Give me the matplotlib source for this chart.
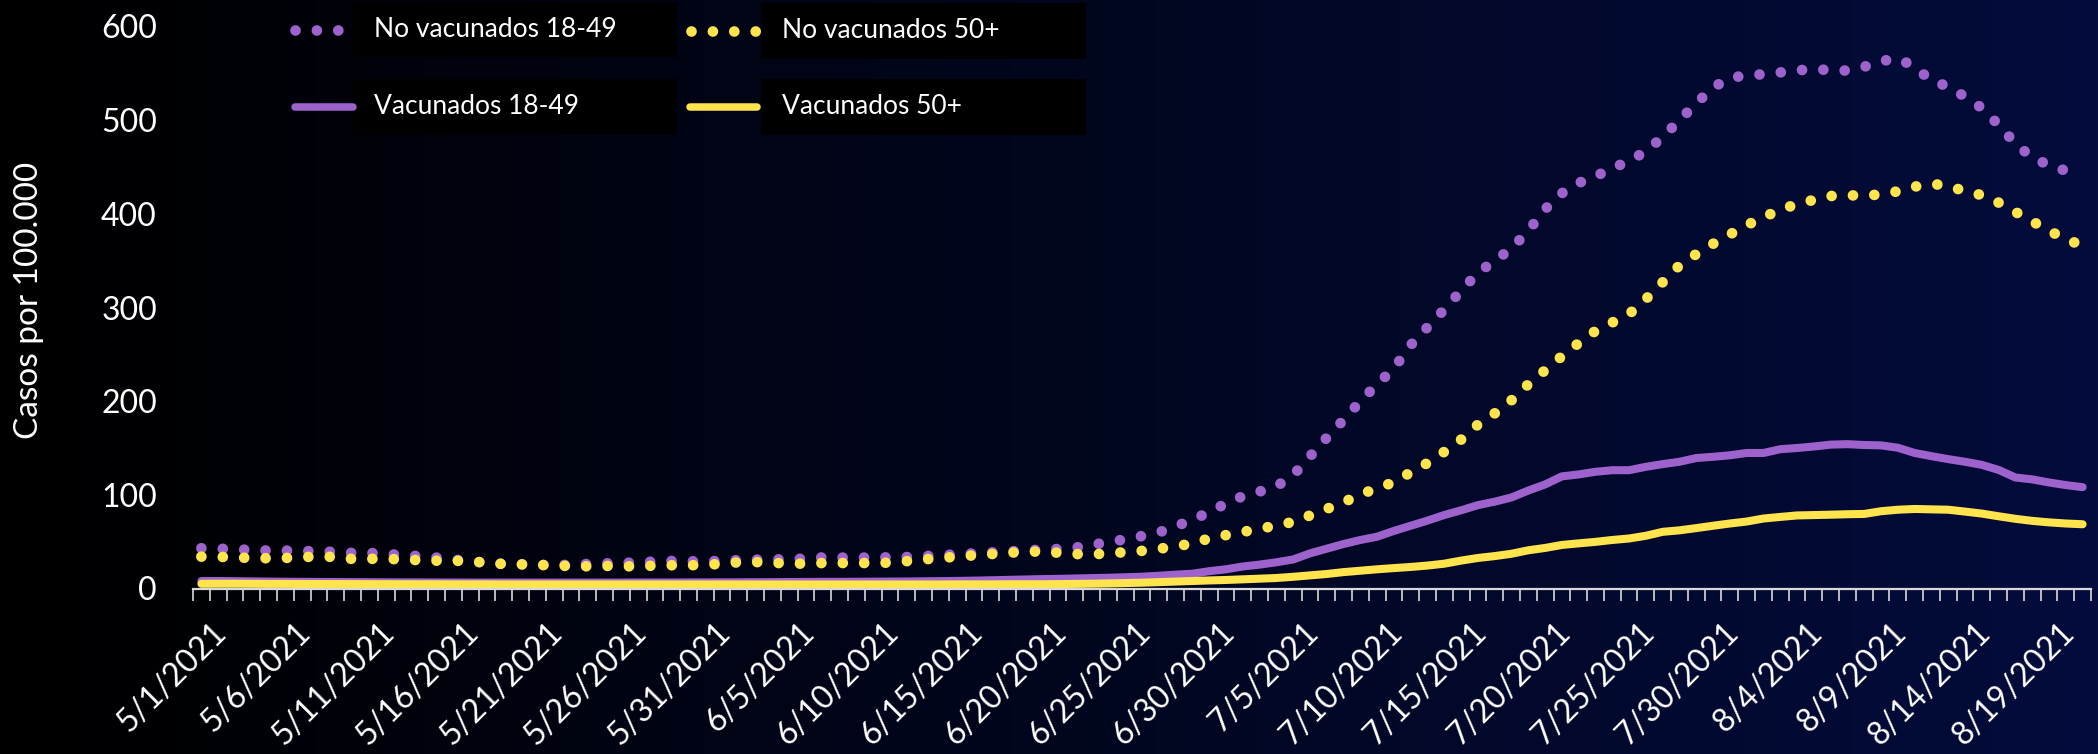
import matplotlib
matplotlib.use("Agg")
import matplotlib.pyplot as plt
import matplotlib.transforms as mtransforms
from matplotlib.lines import Line2D
from matplotlib.patches import Rectangle
import numpy as np
import pandas as pd

plt.rcParams["font.family"] = ["Lato", "DejaVu Sans"]

# daily series, 5/1/2021 .. 8/21/2021 (cases per 100,000)
dates = pd.date_range("2021-05-01", "2021-08-21", freq="D")
labels = [f"{d.month}/{d.day}/{d.year}" for d in dates]

no_vac_18_49 = [
    43, 42.5, 42, 41, 40.5, 40.5, 40, 39.8, 39, 38,
    38, 37, 35.5, 34.5, 33, 31, 29, 27.5, 26.3, 25.8,
    25.2, 24.9, 25.3, 26.2, 26.8, 27.3, 28, 28.8, 29.4, 29.1,
    29, 29.5, 30.3, 30.8, 31, 31.3, 32, 33.2, 33, 33,
    33, 33.3, 33.6, 34.5, 35.5, 36.5, 37.5, 38.5, 39.5, 40.5,
    41.5, 42.2, 43.5, 46.5, 49.5, 52.5, 56, 60, 66, 74,
    81, 91, 98.5, 103.5, 109, 121, 141, 161, 180, 200,
    218, 235, 260, 279, 298, 318, 337, 350, 363, 382,
    405, 422, 433, 440, 449, 456, 467, 482, 500, 518,
    535, 545, 548, 549, 551, 553, 555, 553, 553, 557,
    563, 566, 557, 542, 536, 525, 513, 495, 475, 460,
    452, 446, 441,
]
no_vac_50 = [
    34, 33.8, 33.2, 32.5, 32.3, 32.6, 33.3, 34.5, 33.5, 31.5,
    31.7, 31.6, 31, 30.2, 29.7, 29.7, 29, 27.5, 26.1, 25.8,
    25.3, 24.6, 23.9, 23.7, 24.2, 23.6, 23.8, 24.4, 24.8, 24.8,
    25.1, 26.5, 28, 28.2, 27.5, 26.6, 26.5, 27.2, 27.2, 27.2,
    27.2, 27.6, 29.2, 31, 32.5, 34, 35.4, 36.7, 38, 39.2,
    39.5, 38.2, 36.8, 36.4, 37.5, 38.8, 40.2, 42.3, 45.2, 47.8,
    53.5, 57, 60.5, 63.5, 67.5, 71, 78, 85, 92, 100.5,
    107, 113.5, 124, 134, 146, 159, 175, 187, 201, 218,
    233, 248, 262, 275, 284, 293, 309, 327, 345, 357,
    368, 378, 388, 396, 405, 410, 415, 419, 420, 419,
    421, 424, 429, 432, 430, 424, 420, 412, 402, 392,
    382, 373, 366,
]
vac_18_49 = [
    8, 8, 7.8, 7.6, 7.4, 7.2, 7.1, 7, 6.9, 6.8,
    6.7, 6.6, 6.5, 6.5, 6.4, 6.4, 6.3, 6.3, 6.3, 6.3,
    6.3, 6.3, 6.3, 6.3, 6.3, 6.3, 6.4, 6.4, 6.4, 6.5,
    6.5, 6.6, 6.6, 6.7, 6.8, 6.9, 7, 7.1, 7.1, 7.2,
    7.3, 7.4, 7.5, 7.7, 7.9, 8.1, 8.4, 8.8, 9.2, 9.6,
    10, 10.3, 10.7, 11.1, 11.5, 12, 12.6, 13.6, 14.8, 15.8,
    18.5, 20.5, 23.5, 25.5, 28, 31, 37.5, 42.5, 47.5, 51.8,
    55.3, 61.5, 67, 72.5, 78.5, 83.5, 89, 92.7, 97.2, 104.6,
    111.1, 119.7, 121.8, 124.6, 126.3, 126.3, 129.9, 132.8, 135.3, 139.3,
    140.6, 142.2, 144.7, 144.7, 148.7, 150, 151.6, 153.6, 154.1, 153.2,
    152.8, 150.3, 144.7, 141.3, 138.1, 135.3, 132, 126.6, 118.5, 116.5,
    113.2, 110.4, 108.2,
]
vac_50 = [
    5, 5.1, 5.1, 5, 4.9, 4.9, 4.8, 4.8, 4.7, 4.7,
    4.6, 4.6, 4.5, 4.5, 4.5, 4.4, 4.4, 4.4, 4.3, 4.3,
    4.3, 4.3, 4.3, 4.3, 4.3, 4.3, 4.3, 4.3, 4.3, 4.3,
    4.3, 4.3, 4.3, 4.3, 4.3, 4.3, 4.3, 4.3, 4.3, 4.3,
    4.3, 4.3, 4.3, 4.3, 4.3, 4.4, 4.4, 4.4, 4.5, 4.5,
    4.5, 4.7, 4.9, 5.1, 5.4, 5.8, 6.2, 6.8, 7.4, 8,
    8.6, 9.1, 9.8, 10.5, 11.2, 12.5, 14, 15.5, 17.5, 19,
    20.5, 21.8, 23, 24.5, 26.5, 29.8, 32.6, 34.6, 37.1, 40.8,
    43.3, 46.5, 48.2, 49.8, 51.8, 53.4, 56.3, 60.5, 62.1, 64.5,
    67, 69.4, 71.5, 74.7, 76.4, 78, 78.4, 78.8, 79.3, 79.6,
    82.5, 84.1, 84.9, 84.5, 84.1, 82.1, 80, 77.1, 74.4, 72.2,
    70.6, 69.4, 68.6,
]

series_names = ["No vacunados 18-49", "No vacunados 50+", "Vacunados 18-49", "Vacunados 50+"]
PURPLE = "#9e62cc"
YELLOW = "#ffe44d"
W, H = 2098, 754


def fx(px):
    return px / W


def fy(py):
    return 1 - py / H


fig = plt.figure(figsize=(W / 100, H / 100), dpi=100)

# background gradient, black on the left to navy on the right
bg = fig.add_axes([0, 0, 1, 1], zorder=-10)
grad = np.linspace(0, 1, 512)
rgb = np.zeros((1, 512, 3))
rgb[0, :, 0] = grad * 3 / 255
rgb[0, :, 1] = grad * 12 / 255
rgb[0, :, 2] = grad * 60 / 255
bg.imshow(rgb, aspect="auto", extent=[0, 1, 0, 1])
bg.axis("off")

ax = fig.add_axes([fx(193), fy(588.5), fx(2091) - fx(193), fy(26.5) - fy(588.5)])
ax.patch.set_alpha(0)

x = np.arange(len(dates))
DOT_LW = 7.7
DOTS = (0, (0.001, 2.0))
ax.plot(x, no_vac_18_49, color=PURPLE, lw=DOT_LW, linestyle=DOTS, dash_capstyle="round")
ax.plot(x, no_vac_50, color=YELLOW, lw=DOT_LW, linestyle=DOTS, dash_capstyle="round")
ax.plot(x, vac_18_49, color=PURPLE, lw=5.8, solid_capstyle="round", solid_joinstyle="round")
ax.plot(x, vac_50, color=YELLOW, lw=5.8, solid_capstyle="round", solid_joinstyle="round")

ax.set_xlim(-0.5, len(dates) - 0.5)
ax.set_ylim(0, 600)
ax.set_yticks(range(0, 601, 100))
ax.tick_params(axis="y", length=0, pad=26, labelsize=23, labelcolor="white")

for s in ["top", "right", "left"]:
    ax.spines[s].set_visible(False)
ax.spines["bottom"].set_color("#d9d9d9")
ax.spines["bottom"].set_linewidth(1.6)

# one tick between each pair of days, a date label every fifth day
ax.set_xticks([])
ax.set_xticks(np.arange(-0.5, len(dates), 1.0), minor=True)
ax.tick_params(axis="x", which="minor", length=8.6, width=1.2, color="#d9d9d9", direction="out")
lab_trans = ax.get_xaxis_transform() + mtransforms.ScaledTranslation(
    10 / 100, -29 / 100, fig.dpi_scale_trans)
for i in x[::5]:
    ax.text(i, 0, labels[i], transform=lab_trans, rotation=45, rotation_mode="anchor",
            ha="right", va="top", fontsize=23, color="white", clip_on=False)

fig.text(fx(29), fy(300), "Casos por 100.000", rotation=90, ha="center", va="center",
         fontsize=24, color="white")

# legend drawn by hand: black text boxes with samples to their left
legend_items = [
    (series_names[0], PURPLE, "dot", (295, 340), 353, 677, (2, 57), 374),
    (series_names[1], YELLOW, "dot", (691, 756), 761, 1086, (3, 59), 782),
    (series_names[2], PURPLE, "solid", (295, 353), 353, 677, (79, 135), 374),
    (series_names[3], YELLOW, "solid", (690, 757), 761, 1086, (79, 135), 782),
]
for name, col, kind, (x0, x1), bx0, bx1, (by0, by1), tx in legend_items:
    yc = (by0 + by1) / 2
    if kind == "dot":
        ln = Line2D([fx(x0), fx(x1)], [fy(yc), fy(yc)], transform=fig.transFigure,
                    color=col, lw=DOT_LW, linestyle=DOTS, dash_capstyle="round")
    else:
        ln = Line2D([fx(x0), fx(x1)], [fy(yc), fy(yc)], transform=fig.transFigure,
                    color=col, lw=5.4, solid_capstyle="round")
    fig.add_artist(ln)
    fig.add_artist(Rectangle((fx(bx0), fy(by1)), fx(bx1) - fx(bx0), fy(by0) - fy(by1),
                             transform=fig.transFigure, facecolor="black", edgecolor="none"))
    fig.text(fx(tx), fy(yc), name, ha="left", va="center", fontsize=19, color="white")

fig.savefig("out.png", dpi=100)
